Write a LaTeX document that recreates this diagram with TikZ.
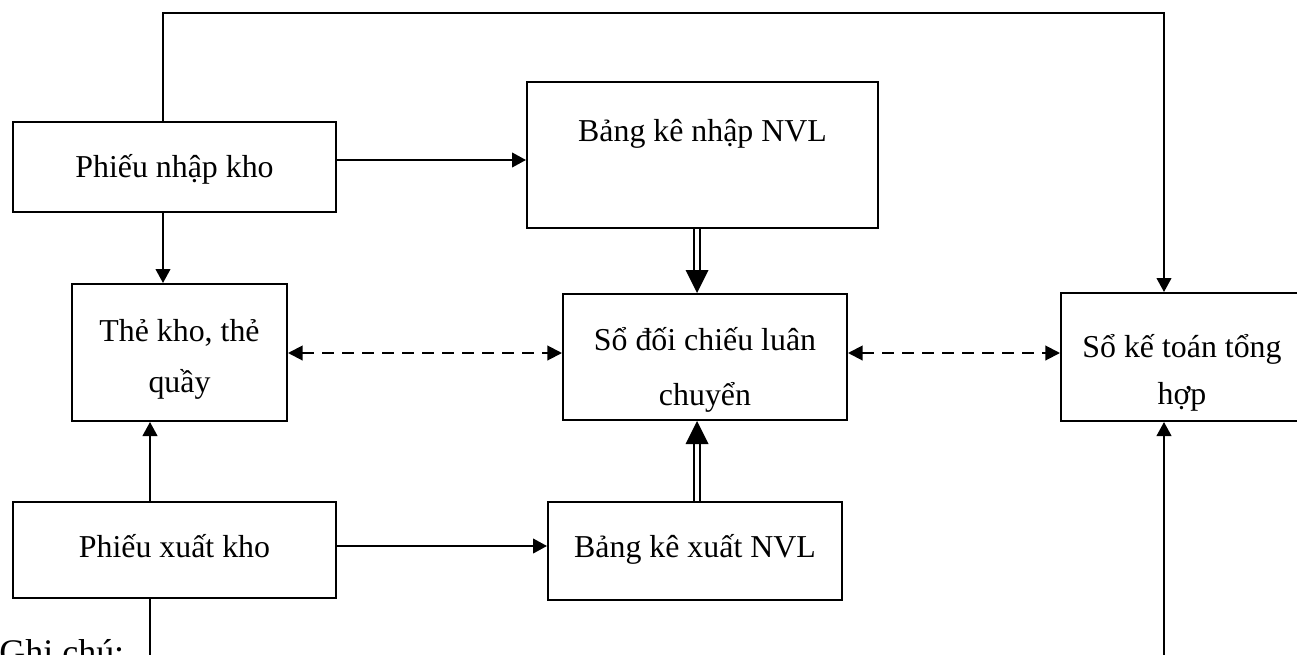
\documentclass[tikz,border=0pt]{standalone}
\usepackage{fontspec}
\setmainfont{Liberation Serif}
\usetikzlibrary{arrows.meta,fit,calc}
\begin{document}
\begin{tikzpicture}[x=0.75pt,y=-0.75pt,
  box/.style={draw, line width=1.5pt, inner sep=0pt, rectangle},
  txt/.style={font=\fontsize{23.9pt}{30pt}\selectfont, anchor=base, inner sep=0pt},
  link/.style={line width=1.5pt},
  arr/.style={link, -{Triangle[length=10.5pt,width=11pt]}},
  darr/.style={link, dash pattern=on 9pt off 6pt, {Triangle[length=11pt,width=11pt]}-{Triangle[length=11pt,width=11pt]}},
  dbl/.style={line width=1.5pt, double, double distance=2.6pt}
]
\useasboundingbox (0,0) rectangle (1297,654);

% boxes
\node[box, fit={(13,122) (336,212)}] (pnk) {};
\node[box, fit={(527,82) (878,228)}] (bkn) {};
\node[box, fit={(72,284) (287,421)}] (tk) {};
\node[box, fit={(563,294) (847,420)}] (sdc) {};
\node[box, fit={(1061,293) (1303,421)}] (skt) {};
\node[box, fit={(13,502) (336,598)}] (pxk) {};
\node[box, fit={(548,502) (842,600)}] (bkx) {};

% texts
\node[txt] (pnk-t) at (174.5,177) {Phiếu nhập kho};
\node[txt] (bkn-t) at (702.5,141) {Bảng kê nhập NVL};
\node[txt] (tk-t1) at (179.5,341) {Thẻ kho, thẻ};
\node[txt] (tk-t2) at (179.5,392) {quầy};
\node[txt] (sdc-t1) at (705,350) {Sổ đối chiếu luân};
\node[txt] (sdc-t2) at (705,405) {chuyển};
\node[txt] (skt-t1) at (1182,357) {Sổ kế toán tổng};
\node[txt] (skt-t2) at (1182,404) {hợp};
\node[txt] (pxk-t) at (174.5,557) {Phiếu xuất kho};
\node[txt] (bkx-t) at (695,557) {Bảng kê xuất NVL};
\node[font=\fontsize{27pt}{32pt}\selectfont, anchor=base west, inner sep=0pt] (note) at (-1,664) {Ghi chú:};

% helper coordinates
\coordinate (c1) at (163,13);
\coordinate (c2) at (1164,13);
\coordinate (c3) at (150,662);
\coordinate (c5) at (1164,662);
\coordinate (c6) at (697,0);
\coordinate (r1) at (0,160);
\coordinate (r2) at (0,546);
\coordinate (r3) at (0,353);

% connectors
\draw[arr] (pnk.north -| c1) -- (c1) -- (c2) -- (skt.north -| c2);
\draw[arr] (pnk.east |- r1) -- (bkn.west |- r1);
\draw[arr] (pnk.south -| c1) -- (tk.north -| c1);
\draw[arr] (pxk.north -| c3) -- (tk.south -| c3);
\draw[arr] (pxk.east |- r2) -- (bkx.west |- r2);
\draw[link] (pxk.south -| c3) -- (c3);
\draw[arr] (c5) -- (skt.south -| c5);
\draw[darr] (tk.east |- r3) -- (sdc.west |- r3);
\draw[darr] (sdc.east |- r3) -- (skt.west |- r3);

\draw[dbl] (bkn.south -| c6) -- ($(sdc.north -| c6)+(0,-21)$);
\fill (sdc.north -| c6) -- ++(-11.5,-23) -- ++(23,0) -- cycle;
\draw[dbl] (bkx.north -| c6) -- ($(sdc.south -| c6)+(0,21)$);
\fill (sdc.south -| c6) -- ++(-11.5,23) -- ++(23,0) -- cycle;
\end{tikzpicture}
\end{document}
